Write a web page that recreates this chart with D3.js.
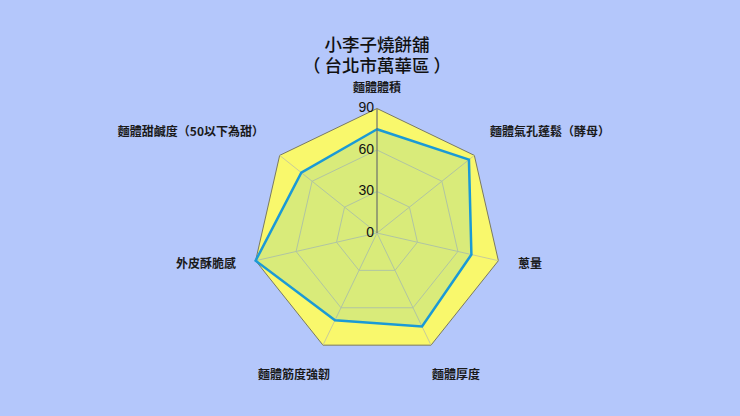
<!DOCTYPE html>
<html>
<head>
<meta charset="utf-8">
<script src="https://cdn.jsdelivr.net/npm/d3@7"></script>
<style>
  html, body { margin: 0; padding: 0; background: #b4c7fb; }
  svg { display: block; font-family: "Noto Sans CJK TC", "Noto Sans", sans-serif; }
  svg text { white-space: pre; }
</style>
</head>
<body>
<svg id="svg" width="740" height="416"></svg>
<script>
const titleLines = ["小李子燒餅舖", "（ 台北市萬華區 ）"];
const axes = [
  "麵體體積",
  "麵體氣孔蓬鬆（酵母）",
  "蔥量",
  "麵體厚度",
  "麵體筋度強韌",
  "外皮酥脆感",
  "麵體甜鹹度（50以下為甜）"
];
const values = [75, 85, 70, 75, 70, 90, 70];
const ticks = [0, 30, 60, 90];

const svg = d3.select("#svg");
const cx = 377, cy = 233;
const rMax = 124.5;

const r = d3.scaleLinear().domain([0, 90]).range([0, rMax]);
const angle = d3.scaleLinear().domain([0, axes.length]).range([0, 2 * Math.PI]);

const pt = (i, v) => {
  const a = angle(i);
  return [cx + Math.sin(a) * r(v), cy - Math.cos(a) * r(v)];
};
const poly = (v) => d3.range(axes.length).map((i) => pt(i, v));
const line = d3.line().curve(d3.curveLinearClosed);

// Title
svg.append("g")
  .selectAll("text")
  .data(titleLines)
  .enter()
  .append("text")
  .attr("x", cx)
  .attr("y", (d, i) => 46 + i * 21)
  .attr("text-anchor", "middle")
  .attr("dominant-baseline", "middle")
  .style("font-size", "17.5px")
  .style("font-weight", "500")
  .style("fill", "#111")
  .text((d) => d);

// Plot background
svg.append("path")
  .attr("d", line(poly(90)))
  .attr("fill", "#f9f86c")
  .attr("stroke", "#7a7a62")
  .attr("stroke-width", 1);

// Grid polygons
svg.append("g")
  .selectAll("path")
  .data(ticks.slice(1, -1))
  .enter()
  .append("path")
  .attr("d", (d) => line(poly(d)))
  .attr("fill", "none")
  .attr("stroke", "#c9cc9a")
  .attr("stroke-width", 1);

// Spokes
svg.append("g")
  .selectAll("line")
  .data(axes)
  .enter()
  .append("line")
  .attr("x1", cx)
  .attr("y1", cy)
  .attr("x2", (d, i) => pt(i, 90)[0])
  .attr("y2", (d, i) => pt(i, 90)[1])
  .attr("stroke", "#c9cc9a")
  .attr("stroke-width", 1);

// Series
svg.append("path")
  .attr("d", line(values.map((v, i) => pt(i, v))))
  .attr("fill", "rgba(27,154,214,0.14)")
  .attr("stroke", "#1b9ad6")
  .attr("stroke-width", 2.5)
  .attr("stroke-linejoin", "miter");

// Value axis
svg.append("line")
  .attr("x1", cx).attr("y1", cy)
  .attr("x2", cx).attr("y2", cy - rMax)
  .attr("stroke", "#6b6b55")
  .attr("stroke-width", 1);

svg.append("g")
  .selectAll("text")
  .data(ticks)
  .enter()
  .append("text")
  .attr("x", cx - 3)
  .attr("y", (d) => cy - r(d))
  .attr("text-anchor", "end")
  .attr("dominant-baseline", "middle")
  .style("font-family", "'Liberation Sans', Arial, sans-serif")
  .style("font-size", "14px")
  .style("fill", "#111")
  .text((d) => d);

// Axis labels
const labelPos = (i) => {
  const a = angle(i);
  const s = Math.sin(a), c = Math.cos(a);
  const R = rMax + (c < -0.5 ? 30 : 20);
  let x = cx + s * R, y = cy - c * R;
  let anchor = Math.abs(s) < 0.05 ? "middle" : s > 0 ? "start" : "end";
  if (c < -0.5) {
    anchor = "middle";
    x += s > 0 ? 12 : -16;
    y += 4;
  }
  if (c > 0.5 && Math.abs(s) > 0.05) y -= 10;
  return { x, y, anchor };
};

svg.append("g")
  .selectAll("text")
  .data(axes)
  .enter()
  .append("text")
  .attr("x", (d, i) => labelPos(i).x)
  .attr("y", (d, i) => labelPos(i).y)
  .attr("text-anchor", (d, i) => labelPos(i).anchor)
  .attr("dominant-baseline", "middle")
  .style("font-size", "12px")
  .style("font-weight", "bold")
  .style("fill", "#1a1a1a")
  .text((d) => d);
</script>
</body>
</html>
